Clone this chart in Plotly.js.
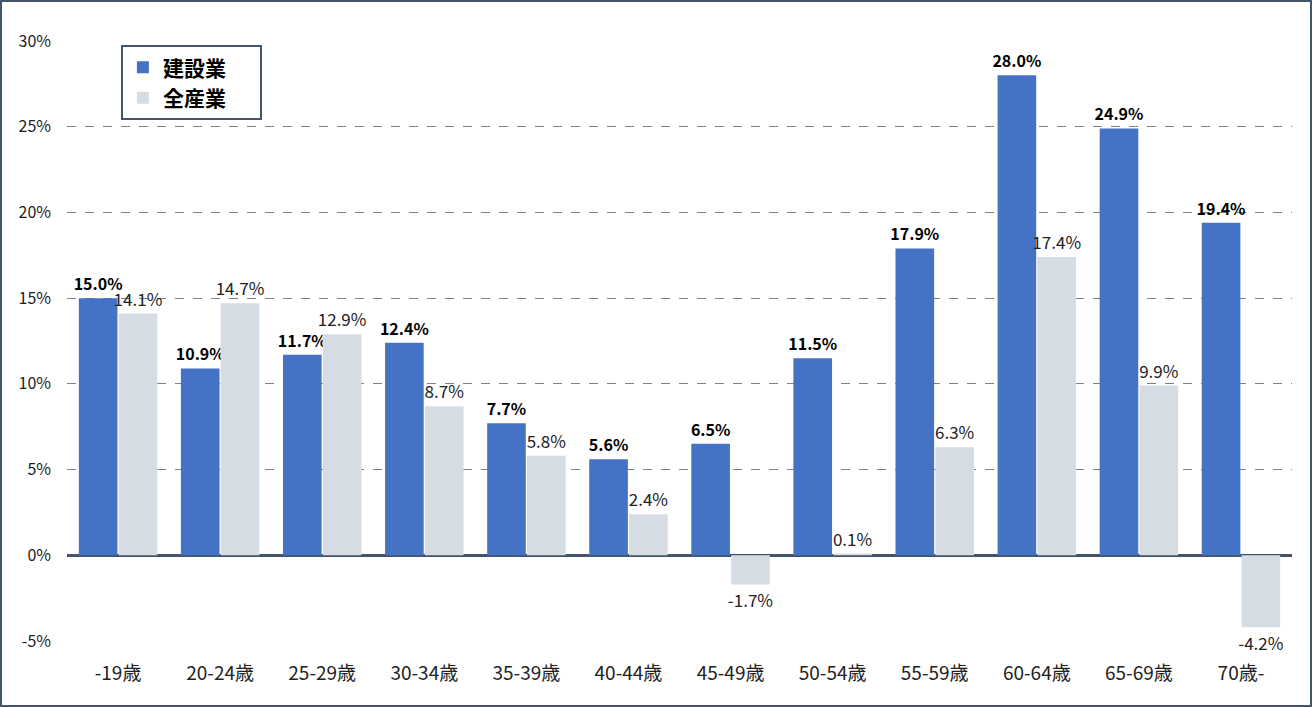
<!DOCTYPE html>
<html>
<head>
<meta charset="utf-8">
<script src="https://cdn.plot.ly/plotly-3.0.1.min.js"></script>
<style>
  body { margin: 0; background: #fff; }
  #frame { width: 1308px; height: 703px; border: 2px solid #44546a; }
  #graph-canvas { width: 1308px; height: 703px; }
</style>
</head>
<body>
<div id="frame"><div id="graph-canvas"></div></div>
<script>
var categories = ['-19歳', '20-24歳', '25-29歳', '30-34歳', '35-39歳', '40-44歳',
                  '45-49歳', '50-54歳', '55-59歳', '60-64歳', '65-69歳', '70歳-'];
var construction = [15.0, 10.9, 11.7, 12.4, 7.7, 5.6, 6.5, 11.5, 17.9, 28.0, 24.9, 19.4];
var allIndustries = [14.1, 14.7, 12.9, 8.7, 5.8, 2.4, -1.7, 0.1, 6.3, 17.4, 9.9, -4.2];
var yTicks = [-5, 0, 5, 10, 15, 20, 25, 30];

var font = 'Noto Sans CJK JP, Noto Sans, sans-serif';

var data = [
    {
        type: 'bar',
        name: '<b>建設業</b>      ',
        x: categories,
        y: construction,
        marker: { color: '#4472C4' },
        text: construction.map(function (v) { return '<b>' + v.toFixed(1) + '%</b>'; }),
        textposition: 'outside',
        constraintext: 'none',
        textfont: { size: 16, color: '#000', family: font },
        cliponaxis: false,
        hoverinfo: 'none'
    },
    {
        type: 'bar',
        name: '<b>全産業</b>      ',
        x: categories,
        y: allIndustries,
        marker: { color: '#D6DCE4' },
        text: allIndustries.map(function (v) { return v.toFixed(1) + '%'; }),
        textposition: 'outside',
        constraintext: 'none',
        textfont: { size: 17, color: '#222', family: font },
        cliponaxis: false,
        hoverinfo: 'none'
    }
];

var layout = {
    width: 1308,
    height: 703,
    margin: { l: 65, r: 18, t: 39, b: 64 },
    paper_bgcolor: '#fff',
    plot_bgcolor: '#fff',
    font: { family: font, size: 16, color: '#222' },
    barmode: 'group',
    bargap: 0.22,
    bargroupgap: 0.03,
    showlegend: true,
    legend: {
        x: 0.044, y: 0.993, xanchor: 'left', yanchor: 'top',
        bgcolor: '#fff',
        bordercolor: '#44546a',
        borderwidth: 2,
        font: { size: 21, color: '#000', family: font },
        itemwidth: 30,
        tracegroupgap: 9
    },
    xaxis: {
        type: 'category',
        showgrid: false,
        zeroline: false,
        showline: false,
        ticks: '',
        tickfont: { size: 19, color: '#222' },
        ticklabelstandoff: 19
    },
    yaxis: {
        range: [-5, 30],
        tickvals: yTicks,
        ticktext: yTicks.map(function (v) { return v + '%'; }),
        showgrid: true,
        gridcolor: '#7f7f7f',
        griddash: 'dash',
        gridwidth: 1,
        zeroline: true,
        zerolinecolor: '#44546a',
        zerolinewidth: 3,
        showline: false,
        ticks: '',
        ticklabelstandoff: 15,
        tickfont: { size: 16, color: '#222' }
    }
};

Plotly.newPlot('graph-canvas', data, layout, { displayModeBar: false, staticPlot: true });
</script>
</body>
</html>
